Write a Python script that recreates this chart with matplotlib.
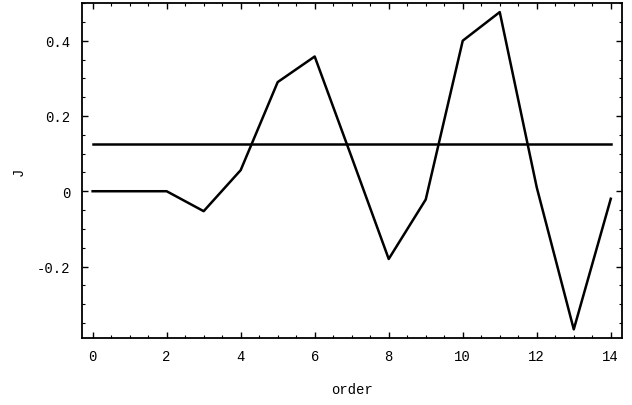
import matplotlib
matplotlib.use('Agg')
import matplotlib.pyplot as plt
from matplotlib.ticker import MultipleLocator

order = [0, 1, 2, 3, 4, 5, 6, 7, 8, 9, 10, 11, 12, 13, 14]
J = [0, 0, 0, -0.053, 0.056, 0.29, 0.358, 0.09, -0.18, -0.022, 0.4, 0.476, 0.01, -0.367, -0.02]
J_mean = 0.125

plt.rcParams['font.family'] = 'Liberation Mono'

fig = plt.figure(figsize=(6.32, 4.06), dpi=100)
ax = fig.add_axes([0.129, 0.165, 0.855, 0.825])

ax.plot(order, J, color='black', lw=1.8)
ax.plot([order[0], order[-1]], [J_mean, J_mean], color='black', lw=1.8)

ax.set_xlim(-0.3, 14.3)
ax.set_ylim(-0.39, 0.5)
ax.xaxis.set_major_locator(MultipleLocator(2))
ax.xaxis.set_minor_locator(MultipleLocator(0.5))
ax.yaxis.set_minor_locator(MultipleLocator(0.05))
ax.set_yticks([-0.2, 0, 0.2, 0.4])
ax.set_yticklabels(['-0.2', '0', '0.2', '0.4'])

ax.tick_params(which='both', direction='in', top=True, right=True, labelsize=10, pad=8)
ax.tick_params(which='major', length=4, width=1)
ax.tick_params(which='minor', length=2, width=0.8)
for s in ax.spines.values():
    s.set_linewidth(1.3)

ax.set_xlabel('order', fontsize=10)
ax.set_ylabel('J', fontsize=10)
ax.xaxis.set_label_coords(0.5, -0.13)
ax.yaxis.set_label_coords(-0.104, 0.5)

fig.savefig('out.png', dpi=100)
